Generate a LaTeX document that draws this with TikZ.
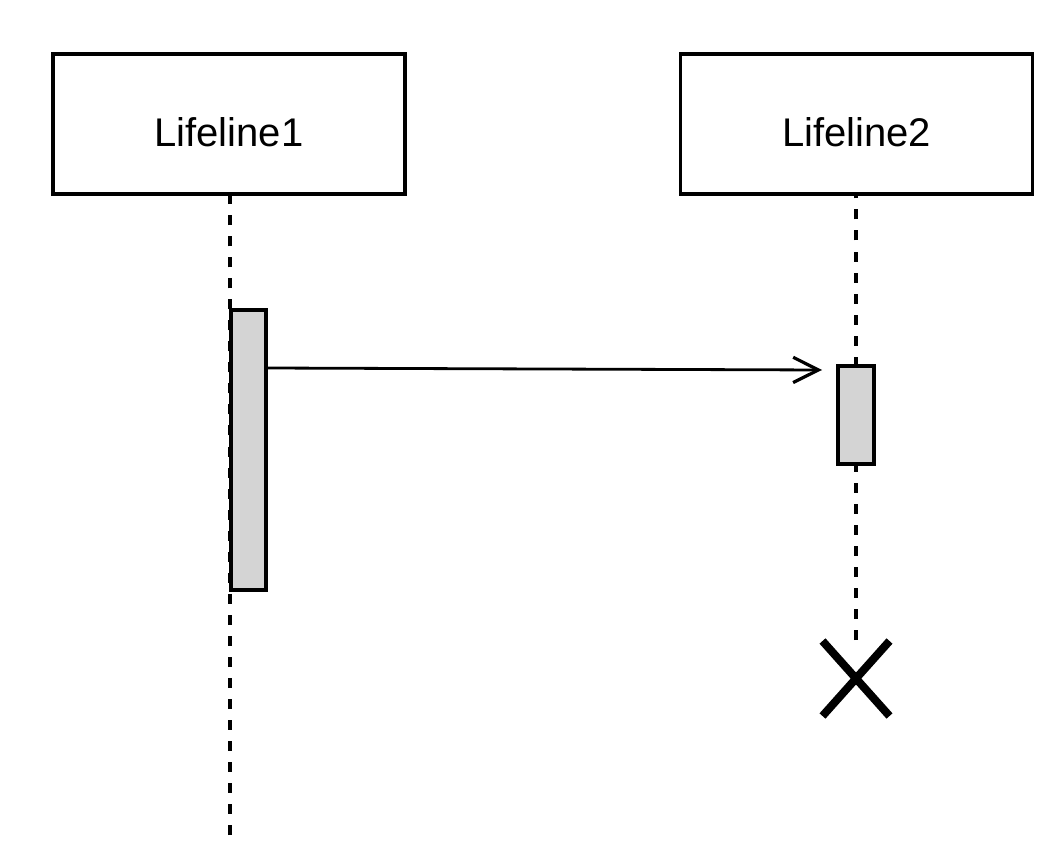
\documentclass[tikz,border=0pt]{standalone}
\usepackage{fontspec}
\setmainfont{Liberation Sans}
\usetikzlibrary{arrows.meta,calc}
\begin{document}
\begin{tikzpicture}[x=0.75pt,y=-0.75pt,
  lifebox/.style={draw=black,line width=2.5pt,fill=white,minimum width=264pt,minimum height=105pt,inner sep=0pt},
  lifetext/.style={anchor=base,font=\fontsize{30}{36}\selectfont,inner sep=0pt},
  actbar/.style={draw=black,line width=2.5pt,fill=black!17,inner sep=0pt},
  lifedash/.style={line width=2.5pt,dash pattern=on 7.5pt off 8.27pt},
  msg/.style={line width=2.1pt,-{Straight Barb[length=19pt,width=19pt,line width=2.4pt]}},
  destroy/.style={line width=6pt}]
\useasboundingbox (0,0) rectangle (1064,863);
\node[lifebox] (l1) at (229,124) {};
\node[lifebox] (l2) at (856.5,124) {};
\node[lifetext] (t1) at (229,147) {Lifeline1};
\node[lifetext] (t2) at (856.5,147) {Lifeline2};
\coordinate (end1) at (230,835);
\coordinate (end2) at (856,640);
\draw[lifedash] (end1) -- (l1.south -| end1);
\draw[lifedash] (end2) -- (l2.south -| end2);
\node[actbar,minimum width=26.25pt,minimum height=210pt] (a1) at (248.5,450) {};
\node[actbar,minimum width=27pt,minimum height=73.5pt] (a2) at (856,415) {};
\coordinate (ms) at (a1.east |- 0,368);
\coordinate (me) at (822,370);
\draw[msg] (ms) -- (me);
\coordinate (xc) at (856,678.5);
\draw[destroy] ($(xc)+(-33.5,-37.5)$) -- ($(xc)+(33.5,37.5)$);
\draw[destroy] ($(xc)+(-33.5,37.5)$) -- ($(xc)+(33.5,-37.5)$);
\end{tikzpicture}
\end{document}
